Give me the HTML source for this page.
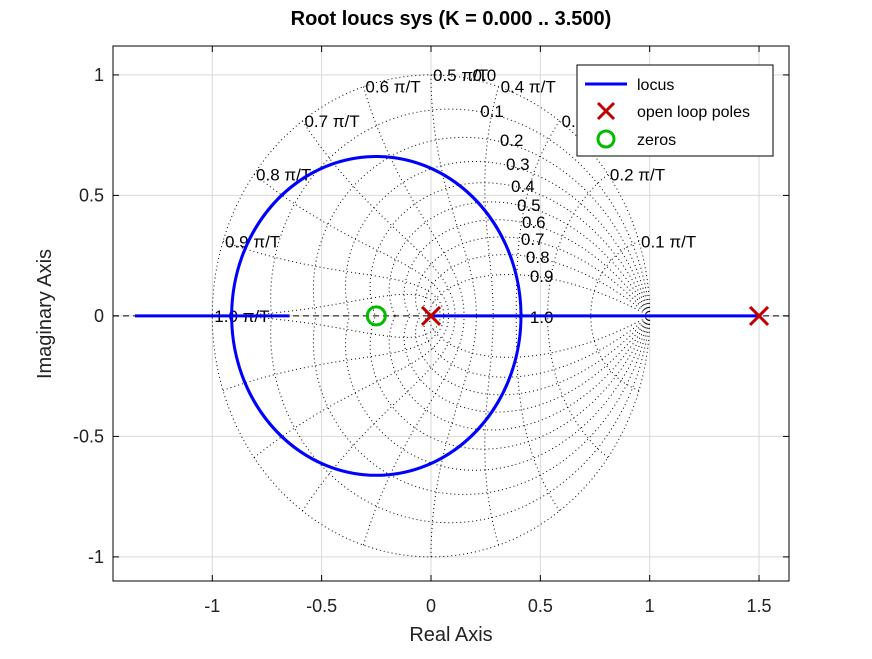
<!DOCTYPE html>
<html><head><meta charset="utf-8"><style>
body{margin:0;background:#fff}
svg{font-family:"Liberation Sans",sans-serif}
</style></head><body>
<svg id="c" width="872" height="654" viewBox="0 0 872 654"></svg>
<script>
const poles=[0,1.5];
const zeros=[-0.25];
const kRange=[0,3.5];
const xTicks=[-1,-0.5,0,0.5,1,1.5];
const xTickLabels=["-1","-0.5","0","0.5","1","1.5"];
const yTicks=[-1,-0.5,0,0.5,1];
const yTickLabels=["-1","-0.5","0","0.5","1"];
const zetaVals=[0,0.1,0.2,0.3,0.4,0.5,0.6,0.7,0.8,0.9,1.0];
const wnVals=[0.1,0.2,0.3,0.4,0.5,0.6,0.7,0.8,0.9,1.0];
const wnLabels=["0.1 π/T","0.2 π/T","0.3 π/T","0.4 π/T","0.5 π/T","0.6 π/T","0.7 π/T","0.8 π/T","0.9 π/T","1.0 π/T"];
const zetaLabels=["0.0","0.1","0.2","0.3","0.4","0.5","0.6","0.7","0.8","0.9","1.0"];
const zetaLabelPos=[[0.19,1.0],[0.225,0.85],[0.315,0.73],[0.343,0.631],[0.366,0.54],[0.393,0.461],[0.416,0.39],[0.411,0.32],[0.434,0.245],[0.452,0.166],[0.452,-0.004]];

const L=113,R=789,T=46,B=581,X0=-1.454,X1=1.637,Y0=-1.10,Y1=1.12;
const sx=v=>L+(v-X0)/(X1-X0)*(R-L);
const sy=v=>B-(v-Y0)/(Y1-Y0)*(B-T);
const NS="http://www.w3.org/2000/svg";
const svg=document.getElementById('c');
function el(tag,attrs,parent){const e=document.createElementNS(NS,tag);for(const k in attrs)e.setAttribute(k,attrs[k]);(parent||svg).appendChild(e);return e;}
el('rect',{x:0,y:0,width:872,height:654,fill:'#fff'});
const defs=el('clipPath',{id:'clip'});el('rect',{x:L,y:T,width:R-L,height:B-T},defs);
const grid=el('g',{stroke:'#d9d9d9','stroke-width':1});

xTicks.forEach(v=>el('line',{x1:sx(v),x2:sx(v),y1:T,y2:B},grid));
yTicks.forEach(v=>el('line',{y1:sy(v),y2:sy(v),x1:L,x2:R},grid));
const zg=el('g',{fill:'none',stroke:'#000','stroke-width':1,'stroke-dasharray':'1 3','clip-path':'url(#clip)'});

function poly(pts,sign){return pts.map((p,i)=>(i?'L':'M')+sx(p[0]).toFixed(1)+' '+sy(sign*p[1]).toFixed(1)).join('');}
zetaVals.forEach(z=>{
  if(z>=1){el('path',{d:'M'+sx(0)+' '+sy(0)+'L'+sx(1)+' '+sy(0)},zg);return;}
  const pts=[];for(let i=0;i<=200;i++){const th=Math.PI*i/200;const r=Math.exp(-z*th/Math.sqrt(1-z*z));pts.push([r*Math.cos(th),r*Math.sin(th)]);}
  el('path',{d:poly(pts,1)},zg);el('path',{d:poly(pts,-1)},zg);
});
wnVals.forEach(w=>{
  const om=w*Math.PI;const pts=[];
  for(let i=0;i<=100;i++){const z=i/100;const r=Math.exp(-om*z),th=om*Math.sqrt(1-z*z);pts.push([r*Math.cos(th),r*Math.sin(th)]);}
  el('path',{d:poly(pts,1)},zg);el('path',{d:poly(pts,-1)},zg);
});
const ra=el('line',{x1:L,x2:R,y1:sy(0),y2:sy(0),stroke:'#000','stroke-width':1,'stroke-dasharray':'6 4'});

const lg=el('g',{'font-size':17,fill:'#000'});

wnVals.forEach((w,i)=>{const t=el('text',{x:sx(Math.cos(w*Math.PI))+2,y:sy(Math.sin(w*Math.PI))+6},lg);t.textContent=wnLabels[i];
});
zetaLabels.forEach((s,i)=>{const t=el('text',{x:sx(zetaLabelPos[i][0]),y:sy(zetaLabelPos[i][1])+6},lg);t.textContent=s;
});
const lo=el('g',{fill:'none',stroke:'#0000ff','stroke-width':3,'stroke-linejoin':'round','clip-path':'url(#clip)'});

const a=poles[0]+poles[1], b=poles[0]*poles[1], zc=zeros[0];
const N=20000;let br=[[],[]];
for(let i=0;i<=N;i++){
  const K=kRange[0]+(kRange[1]-kRange[0])*i/N;
  const p=K-a,q=b-K*zc,d=p*p-4*q;let r;
  if(d>=0){const s=Math.sqrt(d);r=[[(-p+s)/2,0],[(-p-s)/2,0]];}else{const s=Math.sqrt(-d);r=[[-p/2,s/2],[-p/2,-s/2]];}
  br[0].push(r[0]);br[1].push(r[1]);
}
br.forEach(pts=>el('path',{d:poly(pts,1)},lo));
poles.forEach(p=>{const g=el('g',{stroke:'#c00000','stroke-width':3});

const x=sx(p),y=sy(0),s=9;el('line',{x1:x-s,y1:y-s,x2:x+s,y2:y+s},g);el('line',{x1:x-s,y1:y+s,x2:x+s,y2:y-s},g);});
zeros.forEach(z=>{const c=el('circle',{cx:sx(z),cy:sy(0),r:9,fill:'none',stroke:'#00bb00','stroke-width':3});
});
const fr=el('rect',{x:L,y:T,width:R-L,height:B-T,fill:'none',stroke:'#000','stroke-width':1});

const tk=el('g',{stroke:'#000','stroke-width':1});
xTicks.forEach(v=>{el('line',{x1:sx(v),x2:sx(v),y1:B,y2:B-6},tk);el('line',{x1:sx(v),x2:sx(v),y1:T,y2:T+6},tk);});
yTicks.forEach(v=>{el('line',{y1:sy(v),y2:sy(v),x1:L,x2:L+6},tk);el('line',{y1:sy(v),y2:sy(v),x1:R,x2:R-6},tk);});
const tl=el('g',{'font-size':18,fill:'#222'});
xTicks.forEach((v,i)=>{const t=el('text',{x:sx(v),y:612,'text-anchor':'middle'},tl);t.textContent=xTickLabels[i];
});
yTicks.forEach((v,i)=>{const t=el('text',{x:104,y:sy(v)+6,'text-anchor':'end'},tl);t.textContent=yTickLabels[i];
});
let t=el('text',{x:451,y:641,'text-anchor':'middle','font-size':20,fill:'#222'});t.textContent='Real Axis';

t=el('text',{x:0,y:0,'text-anchor':'middle','font-size':20,fill:'#222',transform:'translate(51,314) rotate(-90)'});t.textContent='Imaginary Axis';

t=el('text',{x:451,y:25,'text-anchor':'middle','font-size':20,'font-weight':'bold',fill:'#000'});t.textContent='Root loucs sys (K = 0.000 .. 3.500)';

const lgd=el('g',{});

el('rect',{x:577,y:65,width:196,height:91,fill:'#fff',stroke:'#000','stroke-width':1},lgd);
el('line',{x1:585,x2:627,y1:84,y2:84,stroke:'#0000ff','stroke-width':3},lgd);
el('line',{x1:598,x2:614,y1:103,y2:119,stroke:'#c00000','stroke-width':3},lgd);
el('line',{x1:598,x2:614,y1:119,y2:103,stroke:'#c00000','stroke-width':3},lgd);
el('circle',{cx:606,cy:139,r:8,fill:'none',stroke:'#00bb00','stroke-width':3},lgd);
[["locus",84],["open loop poles",111],["zeros",139]].forEach(e=>{const tt=el('text',{x:637,y:e[1]+6,'font-size':16,fill:'#000'},lgd);tt.textContent=e[0];
});
</script>
</body></html>
